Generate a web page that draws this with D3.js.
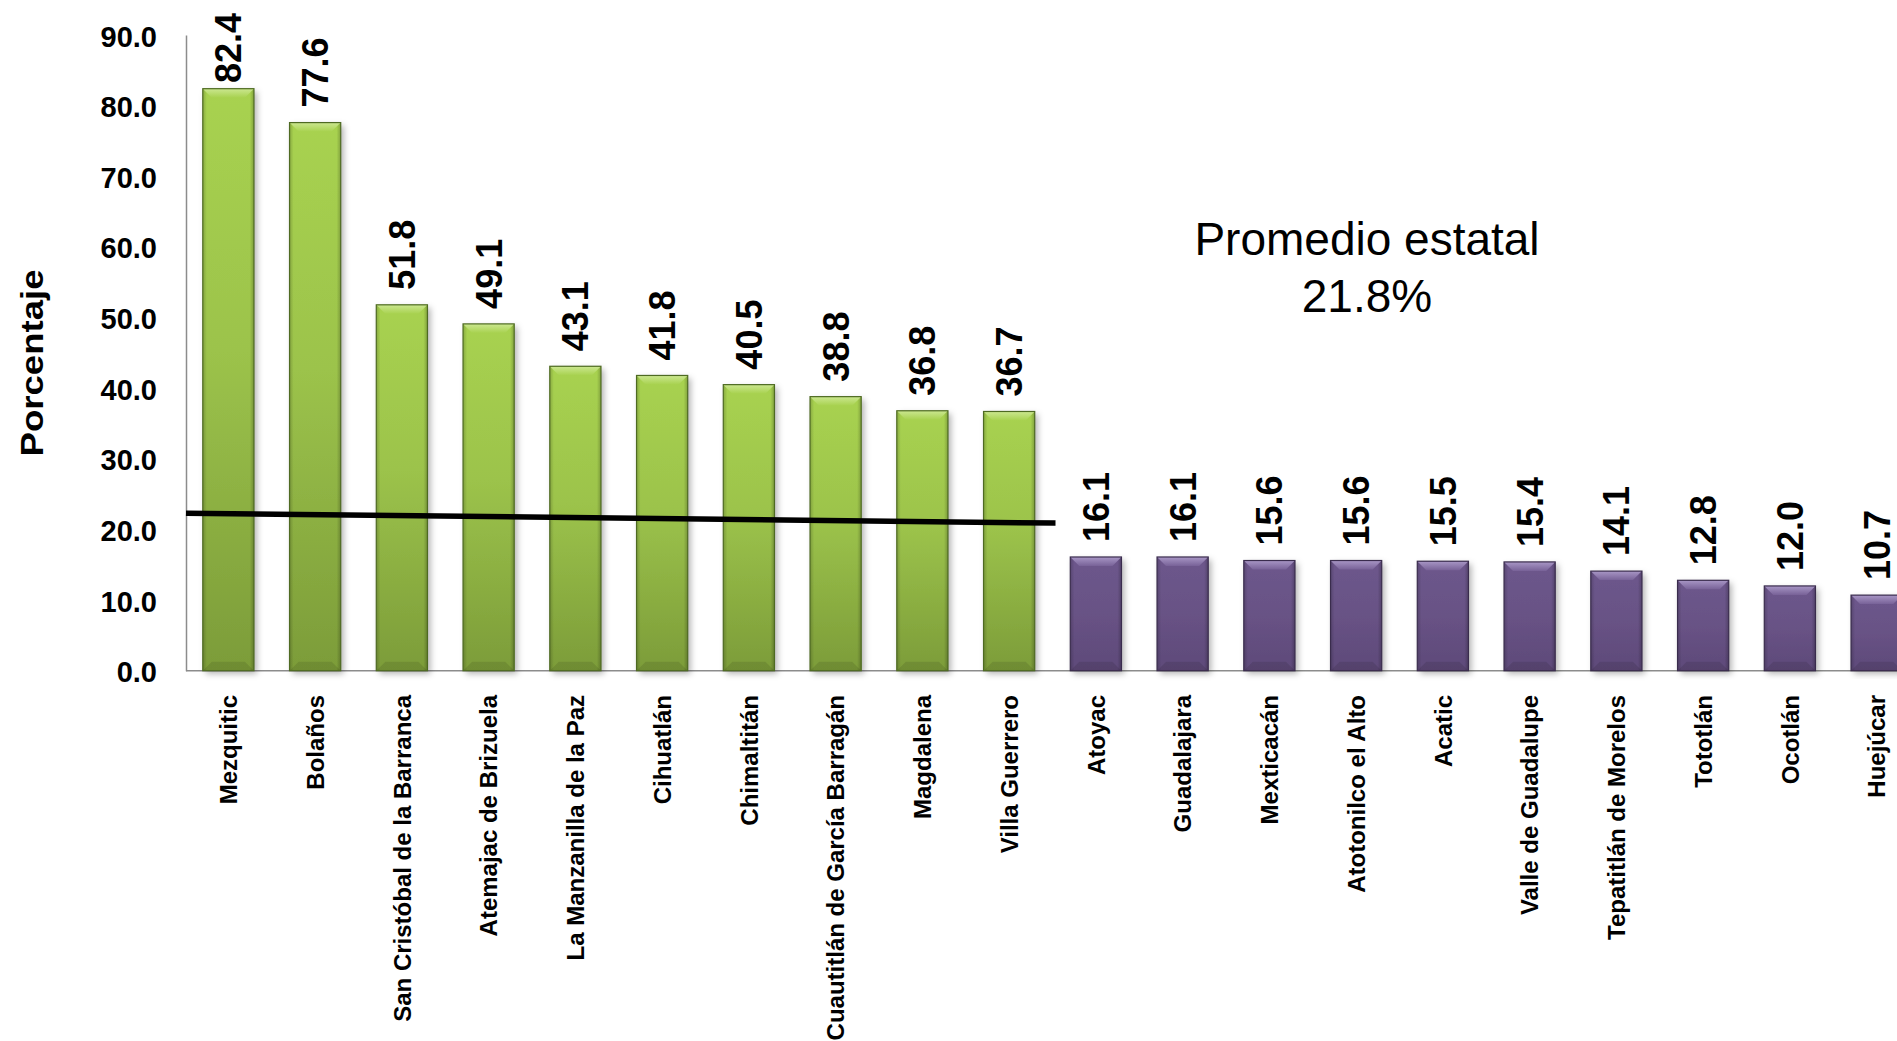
<!DOCTYPE html>
<html lang="es">
<head>
<meta charset="utf-8">
<script src="https://cdn.jsdelivr.net/npm/d3@7"></script>
<style>
  html, body { margin: 0; padding: 0; background: #ffffff; }
  svg { display: block; font-family: "Liberation Sans", Arial, sans-serif; }
</style>
</head>
<body>
<svg id="chart" width="1897" height="1041"></svg>
<script>
// Municipios y porcentajes
const municipios = [
  "Mezquitic", "Bolaños", "San Cristóbal de la Barranca", "Atemajac de Brizuela",
  "La Manzanilla de la Paz", "Cihuatlán", "Chimaltitán", "Cuautitlán de García Barragán",
  "Magdalena", "Villa Guerrero", "Atoyac", "Guadalajara", "Mexticacán",
  "Atotonilco el Alto", "Acatic", "Valle de Guadalupe", "Tepatitlán de Morelos",
  "Tototlán", "Ocotlán", "Huejúcar"
];
const porcentajes = [
  82.4, 77.6, 51.8, 49.1, 43.1, 41.8, 40.5, 38.8, 36.8, 36.7,
  16.1, 16.1, 15.6, 15.6, 15.5, 15.4, 14.1, 12.8, 12.0, 10.7
];
// Grupo de cada barra: "alto" (arriba del promedio) o "bajo"
const grupos = porcentajes.map((v, i) => i < 10 ? "alto" : "bajo");

const yTicks = [0, 10, 20, 30, 40, 50, 60, 70, 80, 90];

// Línea del promedio estatal (valor en sus extremos) y su rótulo
const promedioLinea = [22.3, 20.9];
const promedioTexto = ["Promedio estatal", "21.8%"];
const tituloY = "Porcentaje";

const svg = d3.select("#chart");

const x = d3.scaleBand()
  .domain(municipios)
  .range([185, 185 + 20 * 86.75])
  .paddingInner(0.41)
  .paddingOuter(0.205);

const y = d3.scaleLinear().domain([0, 90]).range([670.7, 35]);

// Gradientes y sombra
const defs = svg.append("defs");
const grad = (id, stops) => {
  const g = defs.append("linearGradient").attr("id", id)
    .attr("x1", 0).attr("y1", 0).attr("x2", 0).attr("y2", 1);
  stops.forEach(([o, c, a]) => g.append("stop").attr("offset", o)
    .attr("stop-color", c).attr("stop-opacity", a === undefined ? 1 : a));
};
grad("gVerde", [["0%", "#a8d250"], ["45%", "#9cc34b"], ["100%", "#7c9c39"]]);
grad("gMorado", [["0%", "#6d578c"], ["50%", "#685285"], ["100%", "#5e4a79"]]);
grad("gBiselV", [["0%", "#d2eb9c"], ["100%", "#a8d250"]]);
grad("gBiselM", [["0%", "#b3a2d0"], ["100%", "#7a649a"]]);
const hgrad = (id, stops) => {
  const g = defs.append("linearGradient").attr("id", id)
    .attr("x1", 0).attr("y1", 0).attr("x2", 1).attr("y2", 0);
  stops.forEach(([o, c, a]) => g.append("stop").attr("offset", o)
    .attr("stop-color", c).attr("stop-opacity", a));
};
hgrad("gLados", [["0%", "#000", 0.18], ["8%", "#000", 0.0], ["92%", "#000", 0.0], ["100%", "#000", 0.22]]);

const sombra = defs.append("filter").attr("id", "sombra")
  .attr("x", "-20%").attr("y", "-5%").attr("width", "150%").attr("height", "115%");
sombra.append("feDropShadow").attr("dx", 3).attr("dy", 3)
  .attr("stdDeviation", 3).attr("flood-color", "#000").attr("flood-opacity", 0.3);

const colores = {
  alto: { fill: "url(#gVerde)", stroke: "#4e6a22", bevel: "url(#gBiselV)" },
  bajo: { fill: "url(#gMorado)", stroke: "#3a2c4d", bevel: "url(#gBiselM)" }
};

// Eje Y
const yAxis = svg.append("g")
  .attr("transform", "translate(186,0)")
  .call(d3.axisLeft(y).tickValues(yTicks).tickFormat(d3.format(".1f"))
    .tickSize(0).tickPadding(29));
yAxis.select(".domain").attr("stroke", "#8c8c8c").attr("stroke-width", 1.5);
yAxis.selectAll("text")
  .attr("font-family", "'Liberation Sans', Arial, sans-serif")
  .attr("font-size", 29).attr("font-weight", "bold").attr("fill", "#000")
  .attr("dy", "0.38em");

// Eje X (línea base)
svg.append("line")
  .attr("x1", 186).attr("x2", 1897)
  .attr("y1", y(0)).attr("y2", y(0))
  .attr("stroke", "#8c8c8c").attr("stroke-width", 1.5);

// Barras con bisel
const bw = x.bandwidth();
const bev = 9;
const barras = svg.append("g").selectAll("g.barra")
  .data(municipios.map((m, i) => ({ m, v: porcentajes[i], g: grupos[i] })))
  .join("g").attr("class", "barra");

barras.append("rect")
  .attr("x", d => x(d.m)).attr("y", d => y(d.v))
  .attr("width", bw).attr("height", d => y(0) - y(d.v))
  .attr("fill", d => colores[d.g].fill)
  .attr("filter", "url(#sombra)");

barras.append("rect")
  .attr("x", d => x(d.m)).attr("y", d => y(d.v))
  .attr("width", bw).attr("height", d => y(0) - y(d.v))
  .attr("fill", "url(#gLados)");

// bisel superior
barras.append("polygon")
  .attr("points", d => {
    const x0 = x(d.m), y0 = y(d.v);
    return [[x0, y0], [x0 + bw, y0], [x0 + bw - bev, y0 + bev], [x0 + bev, y0 + bev]].join(" ");
  })
  .attr("fill", d => colores[d.g].bevel).attr("opacity", 0.85);

// bisel inferior
barras.append("polygon")
  .attr("points", d => {
    const x0 = x(d.m), y1 = y(0);
    return [[x0, y1], [x0 + bw, y1], [x0 + bw - bev, y1 - bev], [x0 + bev, y1 - bev]].join(" ");
  })
  .attr("fill", "#000").attr("opacity", 0.1);

barras.append("rect")
  .attr("x", d => x(d.m)).attr("y", d => y(d.v))
  .attr("width", bw).attr("height", d => y(0) - y(d.v))
  .attr("fill", "none").attr("stroke", d => colores[d.g].stroke).attr("stroke-width", 1.2);

// Etiquetas de valor
const topLimite = 13;
const etiquetas = svg.append("g").selectAll("text.valor")
  .data(municipios.map((m, i) => ({ m, v: porcentajes[i] })))
  .join("text").attr("class", "valor")
  .attr("font-size", 36).attr("font-weight", "bold").attr("fill", "#000")
  .attr("text-anchor", "start")
  .text(d => d3.format(".1f")(d.v));
etiquetas.each(function (d) {
  const len = this.getComputedTextLength();
  const cx = x(d.m) + bw / 2;
  const base = Math.max(y(d.v) - 15, topLimite + len);
  d3.select(this)
    .attr("transform", `translate(${cx},${base}) rotate(-90)`)
    .attr("dy", "0.36em");
});

// Etiquetas de categoría
svg.append("g").selectAll("text.cat")
  .data(municipios)
  .join("text").attr("class", "cat")
  .attr("font-size", 24).attr("font-weight", "bold").attr("fill", "#000")
  .attr("text-anchor", "end")
  .attr("transform", d => `translate(${x(d) + bw / 2},695) rotate(-90)`)
  .attr("dy", "0.36em")
  .text(d => d);

// Línea del promedio estatal
const xIni = x.range()[0] + 1;
const xFin = x(municipios[9]) + bw / 2 + x.step() / 2 + 3;
svg.append("line")
  .attr("x1", xIni).attr("y1", y(promedioLinea[0]))
  .attr("x2", xFin).attr("y2", y(promedioLinea[1]))
  .attr("stroke", "#000").attr("stroke-width", 5.5);

// Rótulo del promedio
svg.append("text")
  .attr("x", 1367).attr("y", 255)
  .attr("text-anchor", "middle").attr("font-size", 46).attr("fill", "#000")
  .text(promedioTexto[0]);
svg.append("text")
  .attr("x", 1367).attr("y", 312)
  .attr("text-anchor", "middle").attr("font-size", 46).attr("fill", "#000")
  .text(promedioTexto[1]);

// Título del eje Y
svg.append("text")
  .attr("transform", "translate(31,363) rotate(-90)")
  .attr("text-anchor", "middle").attr("dy", "0.36em")
  .attr("font-size", 32).attr("font-weight", "bold").attr("fill", "#000")
  .attr("textLength", 187).attr("lengthAdjust", "spacingAndGlyphs")
  .text(tituloY);
</script>
</body>
</html>
